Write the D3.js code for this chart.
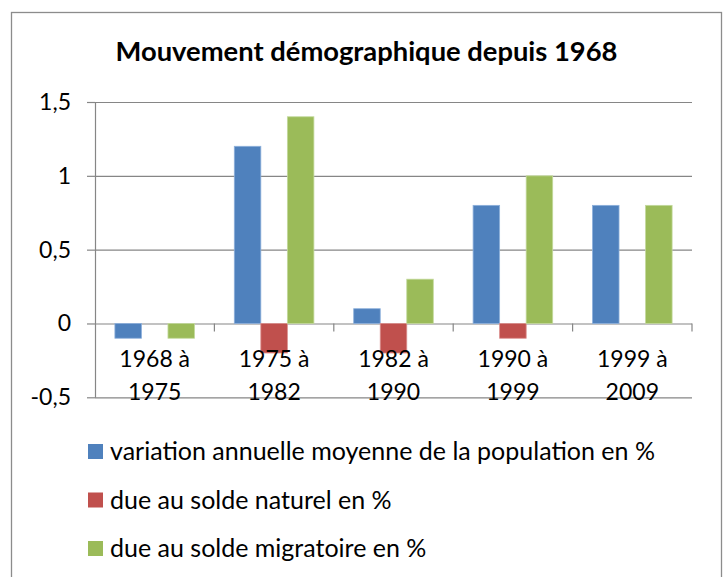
<!DOCTYPE html>
<meta charset="utf-8">
<style>
body { margin: 0; background: #fff; }
text { font-family: Lato, "Open Sans", sans-serif; fill: #000; }
.grid line { stroke: #868686; stroke-width: 1.2; }
.grid .domain { display: none; }
.yaxis line, .yaxis .domain { stroke: #868686; stroke-width: 1.2; }
.xaxis .domain { display: none; }
</style>

<svg width="725" height="577"></svg>

<script src="https://d3js.org/d3.v7.min.js"></script>
<script>
  // Data
  var periods = ["1968 à 1975", "1975 à 1982", "1982 à 1990", "1990 à 1999", "1999 à 2009"];
  var variationTotale = [-0.1, 1.2, 0.1, 0.8, 0.8];
  var soldeNaturel = [0, -0.2, -0.2, -0.1, 0];
  var soldeMigratoire = [-0.1, 1.4, 0.3, 1.0, 0.8];
  var seriesNames = ["variation annuelle moyenne de la population en %",
                     "due au solde naturel en %",
                     "due au solde migratoire en %"];
  var seriesColors = ["#4F81BD", "#C0504D", "#9BBB59"];
  var seriesStroke = ["#8DB0DB", "#DA8E8C", "#C3D99C"];
  var yTicks = [-0.5, 0, 0.5, 1, 1.5];
  var title = "Mouvement démographique depuis 1968";

  var svg = d3.select("svg"),
      plot = {left: 95, right: 692, top: 102, bottom: 397.3};

  // outer chart border
  svg.append("rect")
      .attr("x", 11.5).attr("y", 12.5)
      .attr("width", 710).attr("height", 580)
      .attr("fill", "none").attr("stroke", "#8c8c8c").attr("stroke-width", 1.3);

  var x0 = d3.scaleBand().domain(periods).range([plot.left, plot.right]);
  var x1 = d3.scaleBand().domain([0, 1, 2]).range([0, x0.bandwidth()]).paddingOuter(0.75);
  var y = d3.scaleLinear().domain([-0.5, 1.5]).range([plot.bottom, plot.top]);

  var fmt = function(d) { return String(d).replace(".", ","); };

  //gridlines
  svg.append("g")
      .attr("class", "grid")
      .attr("transform", "translate(" + plot.left + ",0)")
      .call(d3.axisLeft(y).tickValues(yTicks).tickSize(-(plot.right - plot.left)).tickFormat(""));

  //y axis with labels
  var yAxis = svg.append("g")
      .attr("class", "yaxis")
      .attr("transform", "translate(" + plot.left + ",0)")
      .call(d3.axisLeft(y).tickValues(yTicks).tickSizeInner(8).tickSizeOuter(0).tickPadding(16).tickFormat(fmt));

  //category boundary ticks along the zero line
  svg.append("g").selectAll("line")
      .data(periods)
    .enter().append("line")
      .attr("x1", function(d) { return x0(d) + x0.bandwidth(); })
      .attr("x2", function(d) { return x0(d) + x0.bandwidth(); })
      .attr("y1", y(0))
      .attr("y2", y(0) + 8)
      .attr("stroke", "#868686").attr("stroke-width", 1.2);

  //bars
  var rows = periods.map(function(p, i) {
    return [variationTotale[i], soldeNaturel[i], soldeMigratoire[i]].map(function(v, k) {
      return {period: p, key: k, value: v};
    });
  });

  svg.append("g")
    .selectAll("g")
    .data(rows)
    .enter().append("g")
      .attr("transform", function(d) { return "translate(" + x0(d[0].period) + ",0)"; })
    .selectAll("rect")
    .data(function(d) { return d.filter(function(e) { return e.value !== 0; }); })
    .enter().append("rect")
      .attr("x", function(d) { return x1(d.key); })
      .attr("y", function(d) { return y(Math.max(0, d.value)); })
      .attr("width", x1.bandwidth())
      .attr("height", function(d) { return Math.abs(y(d.value) - y(0)); })
      .attr("fill", function(d) { return seriesColors[d.key]; })
      .attr("stroke", function(d) { return seriesStroke[d.key]; })
      .attr("stroke-width", 0.8);

  //category labels (two lines each)
  var xAxis = svg.append("g")
      .attr("class", "xaxis")
      .attr("transform", "translate(0," + y(0) + ")")
      .call(d3.axisBottom(x0).tickSize(0).tickFormat(""));

  var catLabels = xAxis.selectAll(".tick").append("text")
      .attr("text-anchor", "middle")
      .attr("font-size", 24);
  catLabels.each(function(d) {
    var el = d3.select(this);
    var parts = d.split(" à ");
    el.append("tspan").attr("x", 0).attr("y", 43.2).text(parts[0] + " à");
    el.append("tspan").attr("x", 0).attr("y", 76.5).text(parts[1]);
  });

  // fit the label font to the width seen in the picture
  var firstLine = catLabels.select("tspan").node();
  var catSize = 24 * 70.7 / firstLine.getComputedTextLength();
  catLabels.attr("font-size", catSize);

  yAxis.selectAll(".tick text")
      .attr("font-size", catSize)
      .attr("font-family", "Lato, 'Open Sans', sans-serif")
      .attr("fill", "#000");

  //title
  var titleText = svg.append("text")
      .attr("x", 366.5)
      .attr("y", 60.5)
      .attr("text-anchor", "middle")
      .attr("font-weight", "bold")
      .attr("font-size", 24)
      .text(title);
  titleText.attr("font-size", 24 * 502 / titleText.node().getComputedTextLength());

  //legend
  var legend = svg.append("g")
    .selectAll("g")
    .data(seriesNames)
    .enter().append("g")
      .attr("transform", function(d, i) { return "translate(88," + (444 + i * 48.5) + ")"; });

  legend.append("rect")
      .attr("width", 15)
      .attr("height", 15)
      .attr("fill", function(d, i) { return seriesColors[i]; });

  var legendText = legend.append("text")
      .attr("x", 22)
      .attr("y", 7.5)
      .attr("dy", "0.35em")
      .attr("font-size", 24)
      .text(function(d) { return d; });
  var legSize = 24 * 545 / legendText.node().getComputedTextLength();
  legendText.attr("font-size", legSize);
</script>
